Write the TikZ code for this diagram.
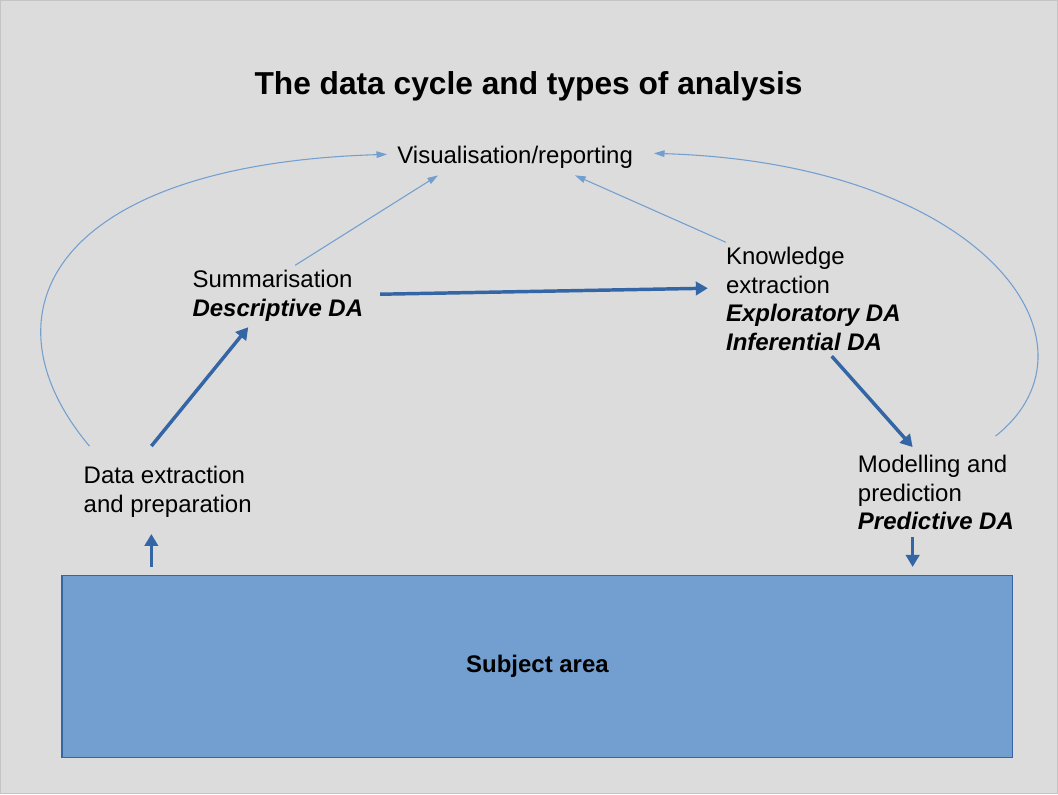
\documentclass[tikz,border=0pt]{standalone}
\usepackage{fontspec}
\setmainfont{Liberation Sans}
\usepackage{xcolor}
\usepackage{tikz}
\usetikzlibrary{calc,arrows.meta}
\definecolor{bg}{HTML}{DCDCDC}
\definecolor{frame}{HTML}{C4C4C4}
\definecolor{deep}{HTML}{3465A4}
\definecolor{light}{HTML}{729FCF}
\tikzset{
  lbl/.style={anchor=north west, inner sep=0pt, align=left, text=black,
    font=\fontsize{18}{21.3}\selectfont},
  ttl/.style={anchor=north west, inner sep=0pt, text=black,
    font=\fontsize{23.8}{28}\selectfont\bfseries},
  areabox/.style={anchor=north west, fill=light, draw=deep, line width=1.1pt,
    minimum width=713.6pt, minimum height=136.3pt, inner sep=0pt,
    font=\fontsize{18}{21.3}\selectfont\bfseries},
  bigarrow/.style={draw=deep, line width=2.6pt, -{Triangle[length=9pt, width=10pt]}},
  thinarrow/.style={draw=light, line width=0.8pt, -{Triangle[length=8pt, width=5pt]}}
}
\newcommand{\da}[1]{\textbf{\textit{#1}}}

\begin{document}
\begin{tikzpicture}[x=0.75pt, y=-0.75pt]
  % page
  \fill[bg, draw=frame, line width=0.75pt] (0,0) rectangle (1058,794);
  \useasboundingbox (0,0) rectangle (1058,794);

  \node[ttl] (title) at (254,71) {The data cycle and types of analysis};

  \node[lbl] (vis) at (397,145) {Visualisation/reporting};
  \node[lbl] (sum) at (192,270) {Summarisation\\ \da{Descriptive DA}};
  \node[lbl] (know) at (726,247) {Knowledge\\ extraction\\ \da{Exploratory DA}\\ \da{Inferential DA}};
  \node[lbl] (data) at (83,466) {Data extraction\\ and preparation};
  \node[lbl] (model) at (858,455) {Modelling and\\ prediction\\ \da{Predictive DA}};

  \node[areabox] (area) at (61,575) {Subject area};

  % main cycle
  \draw[bigarrow] ($(area.north west)+(90,-8)$) -- ($(data.north west)+(68,68)$);
  \draw[bigarrow] ($(data.north west)+(68,-20)$) -- ($(sum.north west)+(56,57)$);
  \draw[bigarrow] ($(sum.north west)+(188,24)$) -- ($(know.north west)+(-18,41)$);
  \draw[bigarrow] ($(know.north west)+(106,109)$) -- ($(model.north west)+(55,-8)$);
  \draw[bigarrow] ($(model.north west)+(55,82)$) -- ($(area.north west)+(852,-8)$);

  % reporting
  \draw[thinarrow] ($(sum.north west)+(103,-5)$) -- ($(vis.north west)+(41,30)$);
  \draw[thinarrow] ($(know.north west)+(0,-5)$) -- ($(vis.north west)+(178,30)$);
  \draw[thinarrow] ($(data.north west)+(6,-20)$)
    .. controls (-25,310) and (57,164) .. ($(vis.north west)+(-10,9)$);
  \draw[thinarrow] ($(model.north west)+(138,-19)$)
    .. controls (1113,343) and (984,163) .. ($(vis.north west)+(257,8)$);
\end{tikzpicture}
\end{document}
